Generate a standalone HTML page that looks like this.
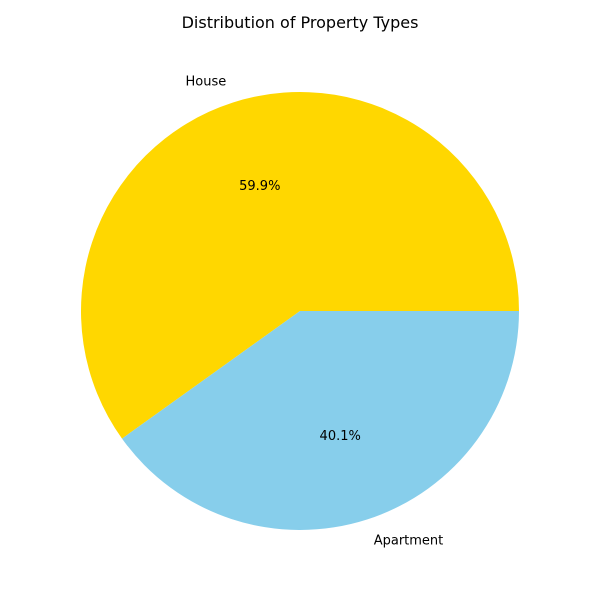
<!DOCTYPE html>
<html>
<head>
<meta charset="utf-8">
<style>
html,body{margin:0;padding:0;background:#fff;}
svg{display:block;font-family:"DejaVu Sans","Liberation Sans",sans-serif;}
</style>
</head>
<body>
<svg id="chart" width="600" height="600" viewBox="0 0 600 600">
<rect width="600" height="600" fill="#fff"/>
<text x="300" y="28" text-anchor="middle" font-size="16" fill="#000">Distribution of Property Types</text>
<g id="slices"></g>
</svg>
<script>
const categories = ["House", "Apartment"];
const values = [59.9, 40.1];
const colors = ["#FFD700", "#87CEEB"];
const sliceNames = ["slice-house", "slice-apartment"];
const labelNames = ["label-house", "label-apartment"];
const pctNames = ["pct-house", "pct-apartment"];

const cx = 300, cy = 311, R = 219;
const g = document.getElementById('slices');
const NS = "http://www.w3.org/2000/svg";
const total = values.reduce((a,b)=>a+b,0);
let start = 0;
function pt(angDeg, r){ const a = angDeg*Math.PI/180; return [cx + r*Math.cos(a), cy - r*Math.sin(a)]; }
values.forEach((v,i)=>{
  const sweep = v/total*360;
  const end = start + sweep;
  const [x1,y1] = pt(start,R), [x2,y2] = pt(end,R);
  const large = sweep > 180 ? 1 : 0;
  const p = document.createElementNS(NS,'path');
  p.setAttribute('d',`M${cx},${cy} L${x1},${y1} A${R},${R} 0 ${large} 0 ${x2},${y2} Z`);
  p.setAttribute('fill',colors[i]);
  
  
  g.appendChild(p);
  const mid = start + sweep/2;
  const [lx,ly] = pt(mid, R*1.1);
  const t = document.createElementNS(NS,'text');
  t.setAttribute('x',lx); t.setAttribute('y',ly+4);
  t.setAttribute('font-size','13');
  t.setAttribute('text-anchor', Math.cos(mid*Math.PI/180) < 0 ? 'end' : 'start');
  t.textContent = categories[i];
  
  
  g.appendChild(t);
  const [px,py] = pt(mid, R*0.6);
  const t2 = document.createElementNS(NS,'text');
  t2.setAttribute('x',px); t2.setAttribute('y',py+4);
  t2.setAttribute('font-size','13');
  t2.setAttribute('text-anchor','middle');
  t2.textContent = (v/total*100).toFixed(1) + '%';
  
  
  g.appendChild(t2);
  start = end;
});
</script>
</body>
</html>
